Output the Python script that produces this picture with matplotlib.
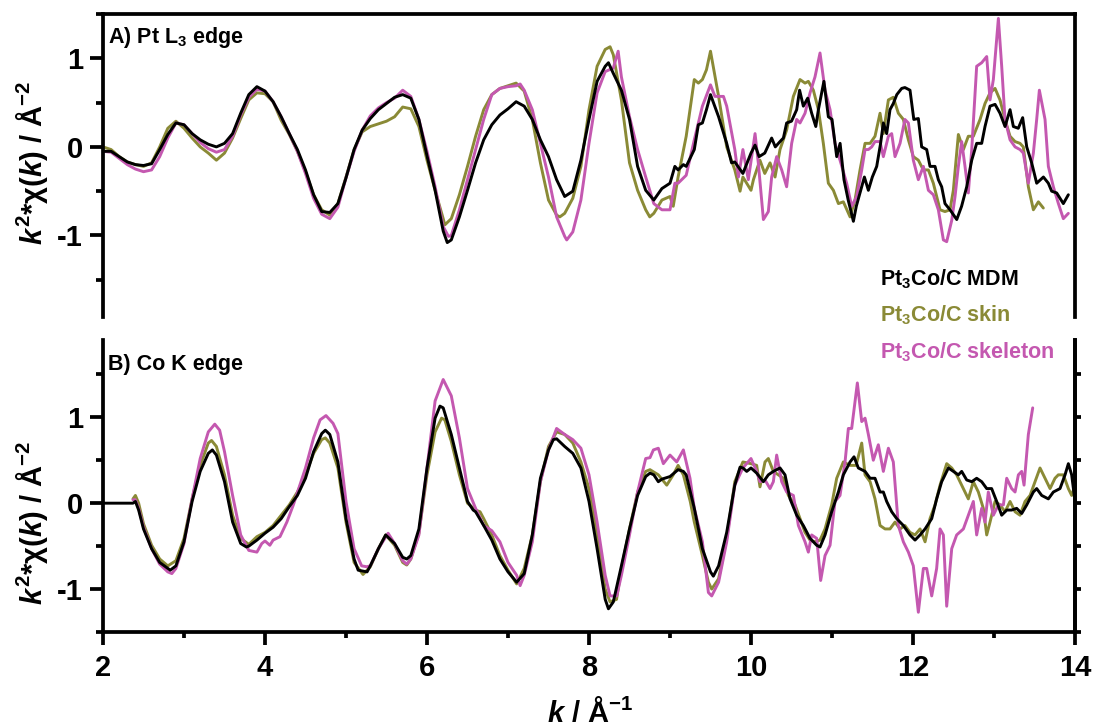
import matplotlib
matplotlib.use("Agg")
import matplotlib.pyplot as plt
from matplotlib.ticker import MultipleLocator, FixedLocator, NullFormatter

# ---------------- data (k in 1/Angstrom, k^2*chi(k)) ----------------
# Panel A: Pt L3 edge
a_mdm_k = [2.0, 2.1, 2.2, 2.3, 2.4, 2.5, 2.6, 2.7, 2.8, 2.9, 3.0, 3.1, 3.2, 3.3, 3.4, 3.5, 3.6, 3.7, 3.8, 3.9,
           4.0, 4.1, 4.2, 4.3, 4.4, 4.5, 4.6, 4.7, 4.8, 4.9, 5.0, 5.1, 5.2, 5.3, 5.4, 5.5, 5.6, 5.7, 5.8, 5.9,
           6.0, 6.1, 6.2, 6.25, 6.3, 6.4, 6.5, 6.6, 6.7, 6.8, 6.9, 7.0, 7.1, 7.2, 7.3, 7.4, 7.5, 7.6, 7.7, 7.8,
           7.9, 8.0, 8.1, 8.2, 8.24, 8.3, 8.4, 8.5, 8.6, 8.7, 8.8, 8.9, 9.0, 9.06, 9.1, 9.165, 9.2, 9.3, 9.35,
           9.4, 9.45, 9.5, 9.6, 9.7, 9.76, 9.8, 9.9, 10.0, 10.05, 10.1, 10.17, 10.255, 10.3, 10.358, 10.4,
           10.44, 10.5, 10.564, 10.6, 10.646, 10.7, 10.749, 10.8, 10.832, 10.9, 10.955, 11.0, 11.058, 11.1,
           11.148, 11.2, 11.264, 11.3, 11.346, 11.4, 11.449, 11.498, 11.552, 11.6, 11.634, 11.675, 11.716,
           11.757, 11.8, 11.86, 11.9, 11.963, 12.01, 12.066, 12.107, 12.169, 12.21, 12.272, 12.313, 12.354,
           12.395, 12.457, 12.54, 12.6, 12.663, 12.725, 12.786, 12.848, 12.889, 12.951, 13.013, 13.074,
           13.136, 13.198, 13.239, 13.3, 13.354, 13.404, 13.465, 13.527, 13.61, 13.671, 13.712, 13.774,
           13.856, 13.918]
a_mdm_chi = [-0.05, -0.05, -0.11, -0.17, -0.20, -0.21, -0.19, -0.03, 0.14, 0.27, 0.25, 0.15, 0.08, 0.03, 0.00,
             0.04, 0.15, 0.38, 0.59, 0.68, 0.63, 0.51, 0.34, 0.15, -0.03, -0.26, -0.54, -0.73, -0.74, -0.64,
             -0.35, -0.03, 0.19, 0.32, 0.42, 0.49, 0.56, 0.59, 0.55, 0.31, -0.10, -0.49, -0.95, -1.08, -1.05,
             -0.79, -0.49, -0.18, 0.08, 0.25, 0.36, 0.43, 0.51, 0.46, 0.31, 0.08, -0.11, -0.37, -0.56, -0.50,
             -0.15, 0.31, 0.74, 0.91, 0.95, 0.83, 0.64, 0.31, -0.22, -0.49, -0.60, -0.47, -0.41, -0.22, -0.26,
             -0.20, -0.22, -0.03, 0.25, 0.27, 0.42, 0.59, 0.34, 0.04, -0.18, -0.17, -0.30, -0.07, 0.02, -0.11,
             -0.07, 0.10, 0.00, 0.06, 0.10, 0.27, 0.29, 0.42, 0.64, 0.46, 0.55, 0.38, 0.23, 0.42, 0.74, 0.34,
             0.31, -0.11, 0.04, -0.37, -0.60, -0.84, -0.67, -0.52, -0.34, -0.49, -0.34, -0.22, 0.04, 0.27, 0.15,
             0.42, 0.49, 0.59, 0.66, 0.67, 0.64, 0.31, 0.32, 0.00, -0.03, -0.22, -0.22, -0.37, -0.45, -0.64,
             -0.71, -0.82, -0.67, -0.45, -0.15, 0.04, 0.04, 0.23, 0.46, 0.48, 0.38, 0.23, 0.42, 0.23, 0.21,
             0.33, 0.00, -0.18, -0.41, -0.34, -0.41, -0.50, -0.52, -0.64, -0.54]

a_skin_k = [2.0, 2.1, 2.2, 2.3, 2.4, 2.5, 2.6, 2.7, 2.8, 2.9, 3.0, 3.1, 3.2, 3.3, 3.4, 3.5, 3.6, 3.7, 3.8, 3.9,
            4.0, 4.1, 4.2, 4.3, 4.4, 4.5, 4.6, 4.7, 4.8, 4.9, 5.0, 5.1, 5.2, 5.3, 5.4, 5.5, 5.6, 5.7, 5.8, 5.9,
            6.0, 6.1, 6.2, 6.22, 6.3, 6.4, 6.5, 6.6, 6.7, 6.8, 6.9, 7.0, 7.1, 7.2, 7.3, 7.4, 7.5, 7.6, 7.64,
            7.7, 7.8, 7.9, 8.0, 8.1, 8.2, 8.26, 8.3, 8.4, 8.5, 8.6, 8.7, 8.75, 8.8, 8.9, 9.0, 9.04, 9.1, 9.2,
            9.3, 9.35, 9.4, 9.45, 9.5, 9.6, 9.7, 9.8, 9.865, 9.9, 10.0, 10.03, 10.11, 10.17, 10.235, 10.297,
            10.358, 10.44, 10.523, 10.605, 10.667, 10.708, 10.77, 10.832, 10.893, 10.955, 11.017, 11.079,
            11.14, 11.223, 11.284, 11.346, 11.408, 11.47, 11.531, 11.593, 11.634, 11.696, 11.757, 11.819,
            11.881, 11.943, 12.004, 12.066, 12.128, 12.19, 12.251, 12.334, 12.395, 12.457, 12.498, 12.56,
            12.622, 12.683, 12.745, 12.828, 12.889, 12.951, 13.013, 13.074, 13.136, 13.198, 13.26, 13.321,
            13.362, 13.424, 13.486, 13.548, 13.609]
a_skin_chi = [0.00, -0.03, -0.11, -0.17, -0.20, -0.22, -0.18, 0.00, 0.21, 0.29, 0.21, 0.10, 0.00, -0.07, -0.15,
              -0.07, 0.10, 0.32, 0.53, 0.61, 0.60, 0.51, 0.30, 0.14, -0.05, -0.28, -0.54, -0.71, -0.77, -0.64,
              -0.34, -0.03, 0.17, 0.23, 0.26, 0.29, 0.34, 0.45, 0.43, 0.23, -0.15, -0.49, -0.81, -0.88, -0.81,
              -0.54, -0.22, 0.12, 0.42, 0.59, 0.66, 0.69, 0.72, 0.63, 0.31, -0.18, -0.60, -0.77, -0.79, -0.75,
              -0.58, -0.22, 0.42, 0.91, 1.10, 1.13, 1.04, 0.53, -0.18, -0.49, -0.71, -0.79, -0.75, -0.60, -0.56,
              -0.67, -0.34, 0.12, 0.76, 0.72, 0.76, 0.87, 1.08, 0.57, 0.00, -0.26, -0.50, -0.34, -0.49, -0.37,
              -0.15, -0.30, -0.18, -0.34, -0.03, 0.19, 0.57, 0.76, 0.72, 0.74, 0.64, 0.42, 0.04, -0.41, -0.49,
              -0.64, -0.62, -0.79, -0.60, -0.26, 0.04, 0.04, 0.12, 0.38, 0.15, 0.53, 0.56, 0.38, 0.31, 0.08,
              -0.11, -0.15, -0.26, -0.26, -0.41, -0.71, -0.73, -0.71, -0.49, 0.14, -0.03, 0.12, 0.12, 0.31,
              0.49, 0.61, 0.66, 0.53, 0.31, 0.12, 0.06, 0.04, 0.00, -0.45, -0.71, -0.62, -0.69]

a_skel_k = [2.0, 2.1, 2.2, 2.3, 2.4, 2.5, 2.6, 2.7, 2.8, 2.9, 3.0, 3.1, 3.2, 3.3, 3.4, 3.5, 3.6, 3.7, 3.8, 3.9,
            4.0, 4.1, 4.2, 4.3, 4.4, 4.5, 4.6, 4.7, 4.8, 4.9, 5.0, 5.1, 5.2, 5.3, 5.4, 5.5, 5.6, 5.7, 5.8, 5.9,
            6.0, 6.1, 6.2, 6.265, 6.3, 6.4, 6.5, 6.6, 6.7, 6.8, 6.9, 7.0, 7.1, 7.15, 7.2, 7.3, 7.4, 7.5, 7.6,
            7.7, 7.725, 7.8, 7.9, 8.0, 8.1, 8.2, 8.3, 8.36, 8.4, 8.5, 8.6, 8.7, 8.8, 8.9, 9.0, 9.06, 9.1, 9.2,
            9.3, 9.4, 9.5, 9.555, 9.6, 9.66, 9.7, 9.8, 9.845, 9.9, 9.967, 10.05, 10.09, 10.153, 10.214,
            10.255, 10.317, 10.379, 10.44, 10.502, 10.564, 10.605, 10.667, 10.729, 10.79, 10.852, 10.914,
            10.976, 11.037, 11.099, 11.181, 11.243, 11.305, 11.367, 11.408, 11.449, 11.49, 11.531, 11.593,
            11.634, 11.696, 11.737, 11.778, 11.84, 11.9, 11.943, 12.004, 12.066, 12.128, 12.19, 12.251,
            12.313, 12.375, 12.416, 12.478, 12.519, 12.56, 12.601, 12.642, 12.683, 12.725, 12.786, 12.848,
            12.91, 12.951, 12.992, 13.054, 13.095, 13.136, 13.198, 13.26, 13.321, 13.362, 13.424, 13.486,
            13.527, 13.56, 13.63, 13.671, 13.733, 13.795, 13.856, 13.918]
a_skel_chi = [-0.05, -0.06, -0.13, -0.20, -0.25, -0.28, -0.26, -0.11, 0.10, 0.27, 0.25, 0.15, 0.05, -0.02, -0.06,
              -0.03, 0.12, 0.36, 0.56, 0.65, 0.63, 0.51, 0.34, 0.15, -0.05, -0.30, -0.58, -0.76, -0.81, -0.68,
              -0.35, -0.05, 0.19, 0.35, 0.44, 0.50, 0.55, 0.64, 0.57, 0.31, -0.05, -0.45, -0.90, -1.01, -1.00,
              -0.71, -0.37, -0.03, 0.31, 0.59, 0.66, 0.68, 0.69, 0.71, 0.64, 0.42, 0.04, -0.34, -0.79, -1.01,
              -1.05, -0.96, -0.60, 0.04, 0.61, 0.85, 0.89, 1.08, 0.79, 0.34, -0.03, -0.34, -0.64, -0.71, -0.71,
              -0.41, -0.41, -0.32, 0.08, 0.46, 0.70, 0.57, 0.57, 0.57, 0.46, -0.03, -0.34, -0.03, -0.37, 0.15,
              -0.18, -0.82, -0.73, -0.34, -0.11, -0.26, -0.45, 0.04, 0.31, 0.27, 0.38, 0.61, 0.79, 1.06, 0.64,
              0.42, 0.04, -0.15, -0.41, -0.67, -0.56, -0.26, -0.03, -0.03, 0.00, 0.06, 0.06, -0.11, 0.12, 0.15,
              -0.11, 0.04, 0.31, 0.27, -0.15, -0.37, -0.22, -0.49, -0.54, -0.71, -1.05, -1.07, -0.83, -0.56,
              -0.22, 0.06, -0.22, -0.52, -0.03, 0.91, 0.95, 1.02, 0.53, 0.76, 1.45, 0.91, 0.31, 0.08, 0.00,
              -0.03, -0.07, -0.41, -0.07, 0.31, 0.64, 0.31, -0.22, -0.45, -0.64, -0.81, -0.75]

# Panel B: Co K edge
b_mdm_k = [2.0, 2.37, 2.4, 2.44, 2.5, 2.6, 2.7, 2.8, 2.83, 2.9, 3.0, 3.1, 3.2, 3.3, 3.35, 3.4, 3.5, 3.6, 3.7,
           3.77, 3.8, 3.9, 4.0, 4.1, 4.2, 4.3, 4.4, 4.5, 4.6, 4.7, 4.745, 4.8, 4.9, 5.0, 5.1, 5.15, 5.26, 5.3,
           5.4, 5.49, 5.6, 5.7, 5.75, 5.8, 5.9, 6.0, 6.1, 6.16, 6.2, 6.3, 6.4, 6.5, 6.57, 6.6, 6.7, 6.8, 6.9,
           7.0, 7.107, 7.2, 7.3, 7.4, 7.5, 7.56, 7.6, 7.7, 7.8, 7.9, 8.0, 8.1, 8.2, 8.24, 8.3, 8.4, 8.5, 8.6,
           8.7, 8.753, 8.8, 8.856, 8.9, 9.0, 9.1, 9.165, 9.2, 9.3, 9.4, 9.5, 9.535, 9.6, 9.7, 9.8, 9.865, 9.9,
           9.947, 10.0, 10.07, 10.153, 10.214, 10.276, 10.358, 10.42, 10.482, 10.564, 10.646, 10.729, 10.811,
           10.852, 10.914, 10.996, 11.079, 11.14, 11.223, 11.272, 11.325, 11.408, 11.47, 11.531, 11.593,
           11.634, 11.675, 11.737, 11.799, 11.881, 11.963, 12.025, 12.087, 12.149, 12.231, 12.292, 12.354,
           12.437, 12.498, 12.56, 12.601, 12.663, 12.725, 12.786, 12.848, 12.91, 12.971, 13.033, 13.095,
           13.157, 13.218, 13.28, 13.342, 13.404, 13.486, 13.527, 13.589, 13.671, 13.733, 13.815, 13.877,
           13.918, 13.959, 14.0]
b_mdm_chi = [0.00, 0.00, 0.02, -0.08, -0.30, -0.53, -0.69, -0.76, -0.78, -0.73, -0.45, 0.02, 0.37, 0.58, 0.62,
             0.56, 0.25, -0.22, -0.47, -0.51, -0.50, -0.43, -0.35, -0.28, -0.18, -0.04, 0.09, 0.29, 0.60, 0.81,
             0.85, 0.80, 0.48, -0.18, -0.65, -0.78, -0.80, -0.73, -0.53, -0.37, -0.47, -0.63, -0.65, -0.61,
             -0.30, 0.41, 0.99, 1.13, 1.11, 0.80, 0.41, 0.02, -0.08, -0.10, -0.26, -0.43, -0.65, -0.80, -0.92,
             -0.82, -0.37, 0.29, 0.62, 0.74, 0.75, 0.66, 0.58, 0.41, 0.02, -0.53, -1.12, -1.23, -1.15, -0.73,
             -0.30, 0.09, 0.31, 0.35, 0.33, 0.25, 0.28, 0.31, 0.39, 0.37, 0.33, -0.06, -0.53, -0.80, -0.85,
             -0.73, -0.34, 0.21, 0.42, 0.41, 0.37, 0.41, 0.35, 0.25, 0.33, 0.37, 0.41, 0.33, 0.05, -0.14, -0.26,
             -0.41, -0.49, -0.51, -0.37, -0.10, 0.13, 0.33, 0.48, 0.54, 0.41, 0.37, 0.29, 0.29, 0.13, 0.13,
             0.02, -0.10, -0.18, -0.26, -0.37, -0.43, -0.37, -0.30, -0.18, 0.05, 0.25, 0.41, 0.37, 0.33, 0.37,
             0.27, 0.25, 0.29, 0.25, 0.17, 0.17, 0.02, -0.14, -0.08, -0.08, -0.06, -0.12, -0.02, 0.13, 0.17,
             0.09, 0.05, 0.13, 0.17, 0.33, 0.46, 0.33, 0.02]

b_skin_k = [2.37, 2.4, 2.44, 2.5, 2.6, 2.7, 2.8, 2.9, 3.0, 3.1, 3.2, 3.3, 3.34, 3.4, 3.5, 3.6, 3.7, 3.8, 3.9,
            4.0, 4.1, 4.2, 4.3, 4.4, 4.5, 4.6, 4.7, 4.745, 4.8, 4.9, 5.0, 5.1, 5.21, 5.3, 5.4, 5.49, 5.6, 5.7,
            5.75, 5.8, 5.9, 6.0, 6.1, 6.18, 6.22, 6.3, 6.4, 6.5, 6.6, 6.655, 6.7, 6.8, 6.9, 7.0, 7.107, 7.2,
            7.3, 7.4, 7.5, 7.6, 7.7, 7.8, 7.9, 8.0, 8.1, 8.2, 8.26, 8.34, 8.4, 8.5, 8.6, 8.7, 8.753, 8.856,
            8.96, 9.04, 9.1, 9.165, 9.25, 9.3, 9.4, 9.474, 9.515, 9.6, 9.7, 9.8, 9.9, 10.0, 10.07, 10.111,
            10.173, 10.214, 10.276, 10.338, 10.4, 10.461, 10.544, 10.605, 10.667, 10.729, 10.79, 10.852,
            10.914, 10.996, 11.058, 11.14, 11.223, 11.297, 11.367, 11.408, 11.47, 11.531, 11.593, 11.655,
            11.716, 11.778, 11.84, 11.9, 11.963, 12.025, 12.087, 12.149, 12.21, 12.272, 12.334, 12.416,
            12.478, 12.539, 12.601, 12.683, 12.745, 12.807, 12.868, 12.91, 12.951, 13.013, 13.074, 13.136,
            13.198, 13.26, 13.321, 13.383, 13.445, 13.507, 13.568, 13.63, 13.692, 13.753, 13.794, 13.856,
            13.918, 13.959, 14.0]
b_skin_chi = [0.05, 0.09, 0.00, -0.24, -0.49, -0.65, -0.73, -0.67, -0.41, 0.05, 0.44, 0.70, 0.73, 0.66, 0.33,
              -0.14, -0.41, -0.48, -0.39, -0.34, -0.26, -0.14, -0.02, 0.13, 0.33, 0.58, 0.74, 0.76, 0.70, 0.41,
              -0.22, -0.69, -0.83, -0.74, -0.53, -0.37, -0.49, -0.69, -0.72, -0.65, -0.35, 0.33, 0.83, 0.99,
              0.97, 0.72, 0.33, 0.00, -0.08, -0.10, -0.18, -0.37, -0.61, -0.78, -0.94, -0.76, -0.37, 0.25, 0.66,
              0.83, 0.80, 0.70, 0.48, 0.17, -0.37, -1.00, -1.15, -1.12, -0.76, -0.30, 0.13, 0.37, 0.39, 0.33,
              0.21, 0.33, 0.44, 0.33, 0.02, -0.22, -0.61, -0.92, -1.00, -0.88, -0.41, 0.25, 0.48, 0.46, 0.44,
              0.19, 0.48, 0.52, 0.37, 0.33, 0.29, 0.09, -0.02, -0.18, -0.34, -0.43, -0.45, -0.43, -0.30, -0.02,
              0.29, 0.48, 0.44, 0.44, 0.70, 0.33, 0.25, 0.05, -0.26, -0.30, -0.30, -0.22, -0.30, -0.26, -0.34,
              -0.37, -0.30, -0.45, -0.18, -0.02, 0.21, 0.46, 0.41, 0.33, 0.21, 0.05, 0.25, 0.13, -0.06, -0.37,
              -0.22, 0.02, -0.02, -0.10, 0.02, -0.10, -0.14, 0.02, 0.09, 0.25, 0.41, 0.29, 0.17, 0.29, 0.33,
              0.33, 0.17, 0.09, 0.21]

b_skel_k = [2.37, 2.4, 2.44, 2.5, 2.6, 2.7, 2.8, 2.85, 2.9, 3.0, 3.1, 3.2, 3.3, 3.38, 3.44, 3.5, 3.6, 3.7, 3.8,
            3.9, 3.96, 4.0, 4.06, 4.1, 4.185, 4.27, 4.35, 4.43, 4.5, 4.6, 4.68, 4.753, 4.84, 4.9, 5.0, 5.1,
            5.193, 5.255, 5.3, 5.4, 5.52, 5.6, 5.7, 5.75, 5.8, 5.9, 6.0, 6.1, 6.2, 6.3, 6.4, 6.5, 6.6, 6.7,
            6.8, 6.9, 7.0, 7.107, 7.15, 7.2, 7.3, 7.4, 7.5, 7.6, 7.7, 7.8, 7.9, 8.0, 8.1, 8.2, 8.26, 8.342,
            8.4, 8.5, 8.6, 8.7, 8.753, 8.795, 8.856, 8.918, 9.0, 9.083, 9.165, 9.247, 9.3, 9.4, 9.474, 9.515,
            9.6, 9.7, 9.8, 9.9, 10.0, 10.07, 10.111, 10.173, 10.235, 10.276, 10.317, 10.379, 10.44, 10.523,
            10.585, 10.667, 10.708, 10.749, 10.811, 10.86, 10.914, 10.976, 11.037, 11.099, 11.161, 11.202,
            11.243, 11.313, 11.367, 11.408, 11.449, 11.51, 11.572, 11.634, 11.696, 11.757, 11.819, 11.881,
            11.943, 12.004, 12.066, 12.128, 12.169, 12.231, 12.292, 12.334, 12.375, 12.416, 12.478, 12.539,
            12.622, 12.683, 12.745, 12.786, 12.848, 12.889, 12.93, 12.992, 13.054, 13.116, 13.157, 13.218,
            13.26, 13.301, 13.342, 13.371, 13.424, 13.478]
b_skel_chi = [0.04, 0.04, -0.06, -0.28, -0.53, -0.71, -0.80, -0.82, -0.76, -0.47, 0.05, 0.52, 0.83, 0.92, 0.85,
              0.60, 0.09, -0.37, -0.55, -0.57, -0.47, -0.44, -0.49, -0.43, -0.39, -0.22, -0.02, 0.21, 0.41, 0.76,
              0.97, 1.02, 0.93, 0.81, 0.02, -0.53, -0.73, -0.74, -0.73, -0.53, -0.35, -0.47, -0.67, -0.71,
              -0.65, -0.37, 0.41, 1.19, 1.44, 1.25, 0.76, 0.17, -0.06, -0.26, -0.32, -0.45, -0.69, -0.84, -0.96,
              -0.84, -0.45, 0.25, 0.62, 0.87, 0.80, 0.74, 0.64, 0.33, -0.22, -0.84, -1.08, -1.08, -0.84, -0.37,
              0.13, 0.52, 0.53, 0.62, 0.64, 0.46, 0.56, 0.48, 0.62, 0.29, -0.06, -0.45, -1.04, -1.08, -0.92,
              -0.45, 0.21, 0.41, 0.52, 0.37, 0.25, 0.27, 0.17, 0.25, 0.56, 0.25, 0.13, 0.09, -0.26, -0.45, -0.57,
              -0.37, -0.41, -0.90, -0.61, -0.49, 0.02, 0.09, 0.48, 0.87, 0.87, 1.40, 0.95, 0.99, 0.80, 0.50,
              0.68, 0.37, 0.64, 0.48, -0.26, -0.45, -0.57, -0.73, -1.27, -0.76, -0.76, -1.08, -0.76, -0.30,
              -0.37, -1.20, -0.53, -0.37, -0.30, -0.14, 0.02, -0.37, -0.06, -0.22, 0.13, -0.14, -0.02, -0.02,
              0.29, 0.17, 0.13, 0.33, 0.37, 0.21, 0.80, 1.11]

series_names = ["Pt$_3$Co/C MDM", "Pt$_3$Co/C skin", "Pt$_3$Co/C skeleton"]
panel_titles = ["A) Pt L$_3$ edge", "B) Co K edge"]
x_ticks = [2, 4, 6, 8, 10, 12, 14]
y_ticks = [-1, 0, 1]

# ---------------- style ----------------
BLACK = "#000000"
OLIVE = "#8a8a36"
MAGENTA = "#c458b0"
FONT = "Liberation Sans"

plt.rcParams["font.family"] = [FONT, "DejaVu Sans"]
plt.rcParams["font.weight"] = "bold"
plt.rcParams["axes.unicode_minus"] = False
plt.rcParams["mathtext.fontset"] = "custom"
plt.rcParams["mathtext.rm"] = "Liberation Sans:bold"
plt.rcParams["mathtext.bf"] = "Liberation Sans:bold"
plt.rcParams["mathtext.it"] = "Liberation Sans:italic:bold"
plt.rcParams["mathtext.default"] = "rm"

W, H = 1093, 728
fig = plt.figure(figsize=(W / 100, H / 100), dpi=100)
ax1 = fig.add_axes([103 / W, 1 - 317 / H, 972 / W, 303 / H])
ax2 = fig.add_axes([103 / W, 1 - 632 / H, 972 / W, 292 / H])

SPW = 2.7   # spine width (pt)
LW = 2.1    # curve width (pt)

for ax, data, ylim in [
    (ax1, [(a_skin_k, a_skin_chi, OLIVE), (a_skel_k, a_skel_chi, MAGENTA), (a_mdm_k, a_mdm_chi, BLACK)], (-1.92, 1.5)),
    (ax2, [(b_skin_k, b_skin_chi, OLIVE), (b_skel_k, b_skel_chi, MAGENTA), (b_mdm_k, b_mdm_chi, BLACK)], (-1.5, 1.9)),
]:
    for kk, cc, col in data:
        ax.plot(kk, cc, color=col, lw=LW, solid_joinstyle="round", solid_capstyle="round")
    ax.set_xlim(2, 14)
    ax.set_ylim(*ylim)
    ax.set_facecolor("none")
    for s in ax.spines.values():
        s.set_linewidth(SPW)
    ax.yaxis.set_major_locator(FixedLocator(y_ticks))
    ax.yaxis.set_minor_locator(MultipleLocator(0.5))
    ax.tick_params(axis="y", which="major", direction="out", length=9.5, width=SPW,
                   labelsize=21, pad=5, left=True, right=False)
    ax.tick_params(axis="y", which="minor", direction="out", length=5, width=SPW, left=True, right=False)
    for lab in ax.get_yticklabels():
        lab.set_fontweight("bold")

# top panel: no bottom axis
ax1.spines["bottom"].set_visible(False)
ax1.tick_params(axis="x", which="both", bottom=False, top=False, labelbottom=False)

# bottom panel: no top spine, x ticks
ax2.spines["top"].set_visible(False)
ax2.xaxis.set_major_locator(FixedLocator(x_ticks))
ax2.xaxis.set_minor_locator(MultipleLocator(1))
ax2.tick_params(axis="x", which="major", direction="out", length=9.5, width=SPW, labelsize=21, pad=6)
ax2.tick_params(axis="x", which="minor", direction="out", length=4, width=SPW)
ax2.set_xticklabels([str(v) for v in x_ticks], fontweight="bold")

# right ticks for bottom panel
sec = ax2.secondary_yaxis("right")
sec.set_yticks([-1.5, -1.0, -0.5, 0.0, 0.5, 1.0, 1.5])
sec.yaxis.set_major_formatter(NullFormatter())
sec.tick_params(axis="y", which="major", direction="out", length=4.5, width=SPW)
sec.tick_params(axis="y", which="minor", length=0)
sec.spines["right"].set_linewidth(SPW)

# panel titles
ax1.text(2.06, 1.175, panel_titles[0], fontsize=15.5, fontweight="bold", va="baseline", ha="left")
ax2.text(2.06, 1.556, panel_titles[1], fontsize=15.5, fontweight="bold", va="baseline", ha="left")

# legend-like labels
for name, col, ypx in zip(series_names, [BLACK, OLIVE, MAGENTA], [285, 321.5, 358]):
    fig.text(880 / W, 1 - ypx / H, name, color=col, fontsize=15.5, fontweight="bold",
             va="baseline", ha="left")

# axis labels
ylab = r"$\mathit{k}^{2}$*χ($\mathit{k}$) / Å$^{-2}$"
fig.text(32 / W, 1 - 163 / H, ylab, rotation=90, fontsize=21, fontweight="bold", va="center", ha="center")
fig.text(32 / W, 1 - 523 / H, ylab, rotation=90, fontsize=21, fontweight="bold", va="center", ha="center")
fig.text(590 / W, 1 - 713 / H, r"$\mathit{k}$ / Å$^{-1}$", fontsize=21, fontweight="bold",
         va="center", ha="center")

fig.savefig("out.png", dpi=100, facecolor="white")
